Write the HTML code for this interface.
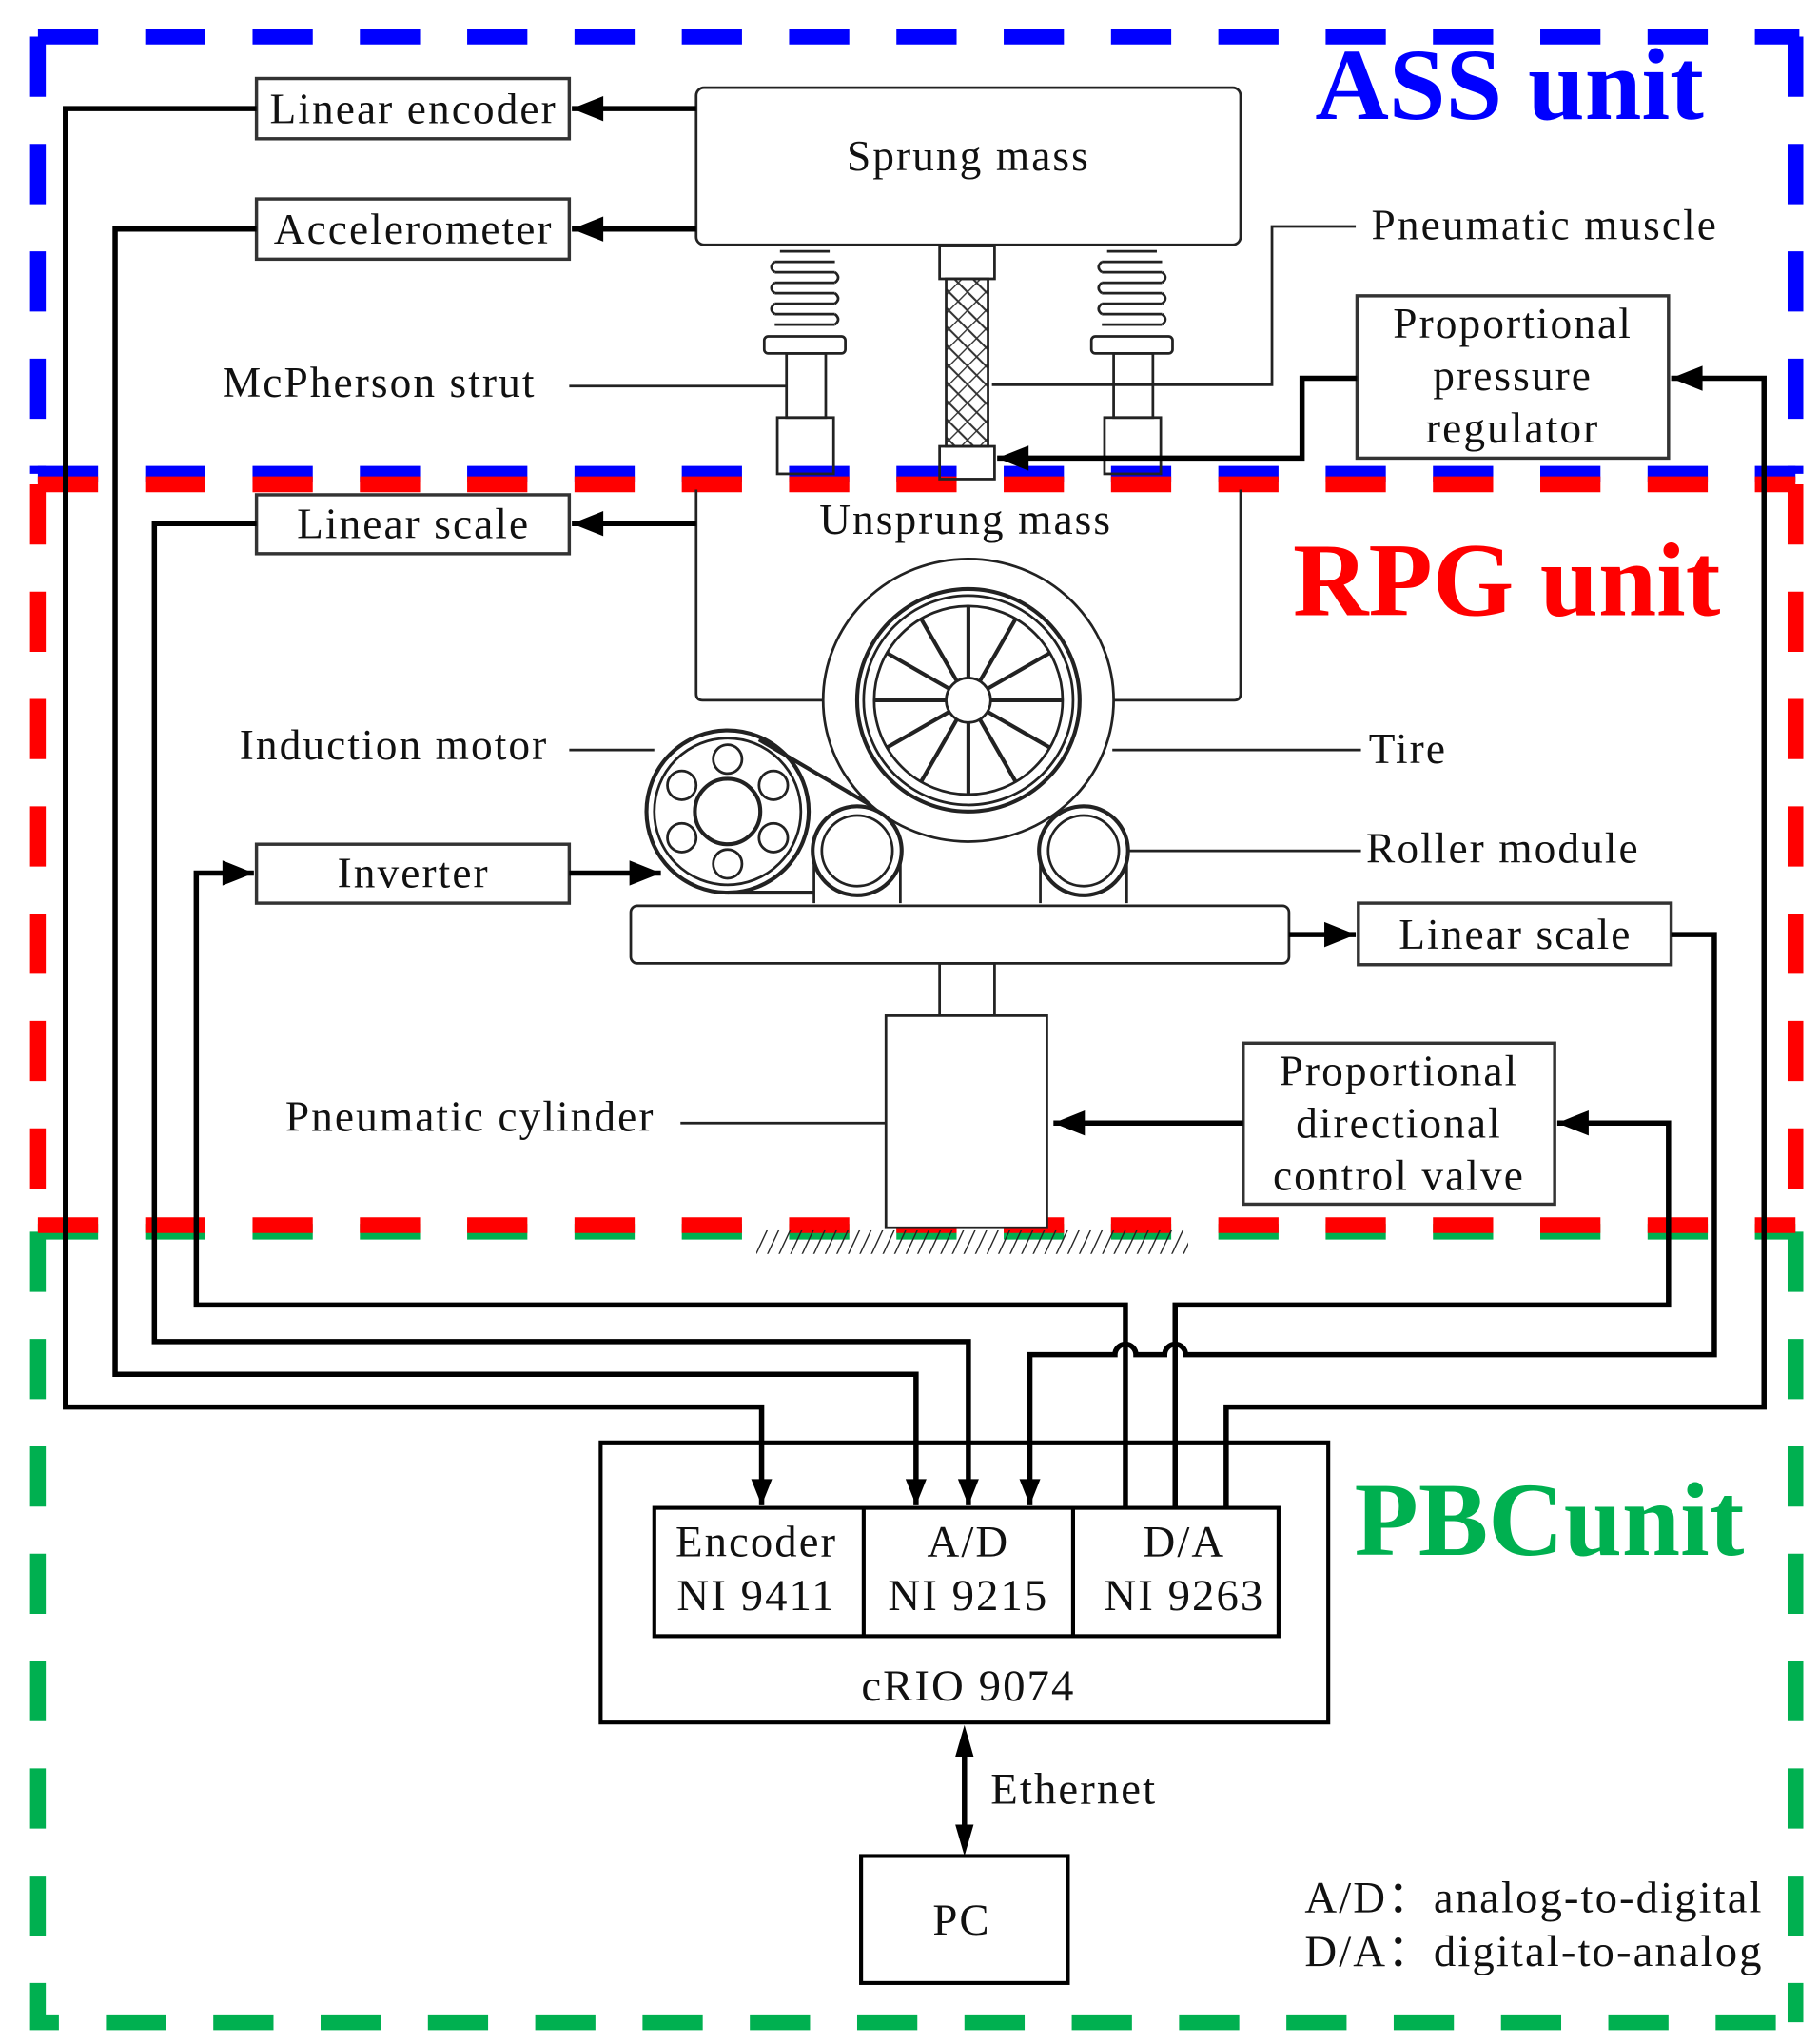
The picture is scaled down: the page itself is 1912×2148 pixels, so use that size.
<!DOCTYPE html>
<html><head><meta charset="utf-8"><style>
html,body{margin:0;padding:0;background:#fff;}
svg{display:block;}
text{font-family:"Liberation Serif",serif;fill:#111;}
.t{letter-spacing:1.5px;}
</style></head><body>
<svg width="1912" height="2148" viewBox="0 0 1390 1561.6" preserveAspectRatio="none" xmlns="http://www.w3.org/2000/svg">
<defs>
<marker id="a" viewBox="0 0 10 10" refX="10" refY="5" markerWidth="7" markerHeight="6" markerUnits="strokeWidth" orient="auto"><path d="M0,1 L10,5 L0,9 Z" fill="#000"/></marker>
<marker id="b" viewBox="0 0 10 10" refX="10" refY="5" markerWidth="9" markerHeight="5" markerUnits="strokeWidth" orient="auto"><path d="M0,1 L10,5 L0,9 Z" fill="#000"/></marker>
<pattern id="h" width="10" height="10" patternUnits="userSpaceOnUse" patternTransform="rotate(45)"><line x1="0" y1="0" x2="0" y2="10" stroke="#333" stroke-width="2"/><line x1="0" y1="5" x2="10" y2="5" stroke="#333" stroke-width="1.5"/></pattern>
<pattern id="g" width="8" height="20" patternUnits="userSpaceOnUse" patternTransform="rotate(25)"><line x1="0" y1="0" x2="0" y2="20" stroke="#222" stroke-width="2"/></pattern>
</defs>

<g fill="none" stroke-width="12" stroke-dasharray="46 36">
<path d="M29,28 H1375" stroke="#0000ff"/>
<path d="M29,28 V362" stroke="#0000ff"/>
<path d="M1372,28 V362" stroke="#0000ff"/>
<path d="M29,362 H1372" stroke="#0000ff"/>
<path d="M29,941 H1372" stroke="#00b050"/>
<path d="M29,941 V1545 H1372" stroke="#00b050"/>
<path d="M1372,941 V1545" stroke="#00b050"/>
<path d="M29,370 H1372" stroke="#ff0000"/>
<path d="M29,370 V936" stroke="#ff0000"/>
<path d="M1372,370 V936" stroke="#ff0000"/>
<path d="M29,936 H1372" stroke="#ff0000"/>
</g>

<text x="1005" y="91" font-size="78" font-weight="bold" style="fill:#0000ff">ASS unit</text>
<text x="988" y="470" font-size="80" font-weight="bold" style="fill:#ff0000">RPG unit</text>
<text x="1035" y="1188" font-size="80" font-weight="bold" style="fill:#00b050">PBCunit</text>

<g fill="none" stroke="#222" stroke-width="2">
<rect x="532" y="67" width="416" height="120" rx="6" fill="#fff"/>
<g id="sp">
<path d="M596,192 h38 M592,200 h46 M592,208 h46 M592,216 h46 M592,224 h46 M592,232 h46 M592,240 h46 M592,248 h46"/>
<path d="M592,200 q-5,4 0,8 M592,216 q-5,4 0,8 M592,232 q-5,4 0,8 M638,208 q5,4 0,8 M638,224 q5,4 0,8 M638,240 q5,4 0,8"/>
<rect x="584" y="257" width="62" height="13" rx="3"/>
<rect x="601" y="270" width="30" height="49"/>
<rect x="594" y="319" width="43" height="43"/>
</g>
<use href="#sp" transform="translate(250,0)"/>
<rect x="718" y="188" width="42" height="25"/>
<rect x="723" y="213" width="32" height="128" fill="url(#h)"/>
<rect x="718" y="341" width="42" height="25"/>
<path d="M532,374 V530 Q532,535 537,535 H630"/>
<path d="M948,374 V530 Q948,535 943,535 H850"/>
<ellipse cx="740" cy="535" rx="111" ry="108" fill="#fff"/>
<circle cx="740" cy="535" r="85" stroke-width="3"/>
<circle cx="740" cy="535" r="80"/>
<circle cx="740" cy="535" r="72"/>
<circle cx="740" cy="535" r="17"/>
<g stroke-width="3">
<path d="M740,518 V463 M740,552 V607 M723,535 H668 M757,535 H812 M725,526 L678,499 M755,526 L802,499 M725,544 L678,571 M755,544 L802,571 M731,520 L704,473 M749,520 L776,473 M731,550 L704,597 M749,550 L776,597"/>
</g>
<path d="M622,690 V650 M688,690 V650 M795,690 V650 M861,690 V650"/>
<circle cx="655" cy="650" r="34" fill="#fff" stroke-width="3"/><circle cx="655" cy="650" r="27"/>
<circle cx="828" cy="650" r="34" fill="#fff" stroke-width="3"/><circle cx="828" cy="650" r="27"/>
<path d="M861,650 H1040"/>
<circle cx="556" cy="620" r="62" fill="#fff" stroke-width="3"/><circle cx="556" cy="620" r="56"/>
<circle cx="556" cy="620" r="25" stroke-width="3"/>
<circle cx="556" cy="580" r="11"/><circle cx="556" cy="660" r="11"/>
<circle cx="521" cy="600" r="11"/><circle cx="591" cy="600" r="11"/>
<circle cx="521" cy="640" r="11"/><circle cx="591" cy="640" r="11"/>
<path d="M580,565 L665,615 M556,682 H622" stroke-width="3"/>
<rect x="482" y="692" width="503" height="44" rx="5" fill="#fff"/>
<rect x="718" y="736" width="42" height="40"/>
<rect x="677" y="776" width="123" height="162" fill="#fff"/>
<rect x="578" y="940" width="330" height="18" stroke="none" fill="url(#g)"/>
<path d="M758,294 H972 V173 H1036"/>
<path d="M435,295 H601"/>
<path d="M435,573 H500"/>
<path d="M850,573 H1040"/>
<path d="M520,858 H677"/>
</g>

<g font-size="33" class="t">
<text x="740" y="130" text-anchor="middle">Sprung mass</text>
<text x="738" y="408" text-anchor="middle">Unsprung mass</text>
<text x="1048" y="183">Pneumatic muscle</text>
<text x="170" y="303">McPherson strut</text>
<text x="183" y="580">Induction motor</text>
<text x="1046" y="583">Tire</text>
<text x="1044" y="659">Roller module</text>
<text x="218" y="864">Pneumatic cylinder</text>
</g>

<g fill="#fff" stroke="#333" stroke-width="2.5">
<rect x="196" y="60" width="239" height="46"/>
<rect x="196" y="152" width="239" height="46"/>
<rect x="196" y="378" width="239" height="45"/>
<rect x="196" y="645" width="239" height="45"/>
<rect x="1038" y="690" width="239" height="47"/>
<rect x="1037" y="226" width="238" height="124"/>
<rect x="950" y="797" width="238" height="123"/>
</g>
<g font-size="33" text-anchor="middle" class="t">
<text x="316" y="94">Linear encoder</text>
<text x="316" y="186">Accelerometer</text>
<text x="316" y="411">Linear scale</text>
<text x="316" y="678">Inverter</text>
<text x="1158" y="725">Linear scale</text>
<text x="1156" y="258">Proportional</text>
<text x="1156" y="298">pressure</text>
<text x="1156" y="338">regulator</text>
<text x="1069" y="829">Proportional</text>
<text x="1069" y="869">directional</text>
<text x="1069" y="909">control valve</text>
</g>

<g fill="none" stroke="#000" stroke-width="4">
<path d="M532,83 H437" marker-end="url(#a)"/>
<path d="M532,175 H437" marker-end="url(#a)"/>
<path d="M532,400 H437" marker-end="url(#a)"/>
<path d="M435,667 H505" marker-end="url(#a)"/>
<path d="M985,714 H1036" marker-end="url(#a)"/>
<path d="M950,858 H805" marker-end="url(#a)"/>
<path d="M1037,289 H995 V350 H762" marker-end="url(#a)"/>
<path d="M196,83 H50 V1075 H582 V1150" marker-end="url(#b)"/>
<path d="M196,175 H88 V1050 H700 V1150" marker-end="url(#b)"/>
<path d="M196,400 H118 V1025 H740 V1150" marker-end="url(#b)"/>
<path d="M860,1152 V997 H150 V667 H194" marker-end="url(#a)"/>
<path d="M1277,714 H1310 V1035 H906 A8,8 0 0 0 890,1035 H868 A8,8 0 0 0 852,1035 H787 V1150" marker-end="url(#b)"/>
<path d="M898,1152 V997 H1275 V858 H1190" marker-end="url(#a)"/>
<path d="M937,1152 V1075 H1348 V289 H1277" marker-end="url(#a)"/>
</g>

<g fill="none" stroke="#000" stroke-width="3">
<rect x="459" y="1102" width="556" height="214"/>
<rect x="500" y="1152" width="477" height="98"/>
<path d="M660,1152 V1250 M820,1152 V1250"/>
<rect x="658" y="1418" width="158" height="97"/>
<path d="M737,1340 V1396" stroke-width="4"/>
<path d="M737,1318 l-7,24 h14 Z M737,1418 l-7,-24 h14 Z" fill="#000" stroke="none"/>
</g>
<g font-size="34" text-anchor="middle" class="t">
<text x="578" y="1189">Encoder</text><text x="578" y="1230">NI 9411</text>
<text x="740" y="1189">A/D</text><text x="740" y="1230">NI 9215</text>
<text x="905" y="1189">D/A</text><text x="905" y="1230">NI 9263</text>
<text x="740" y="1299">cRIO 9074</text>
<text x="735" y="1478">PC</text>
</g>
<text x="757" y="1378" font-size="34" class="t">Ethernet</text>
<g font-size="34" class="t">
<text x="997" y="1461">A/D：analog-to-digital</text>
<text x="997" y="1502">D/A：digital-to-analog</text>
</g>
</svg>
</body></html>
